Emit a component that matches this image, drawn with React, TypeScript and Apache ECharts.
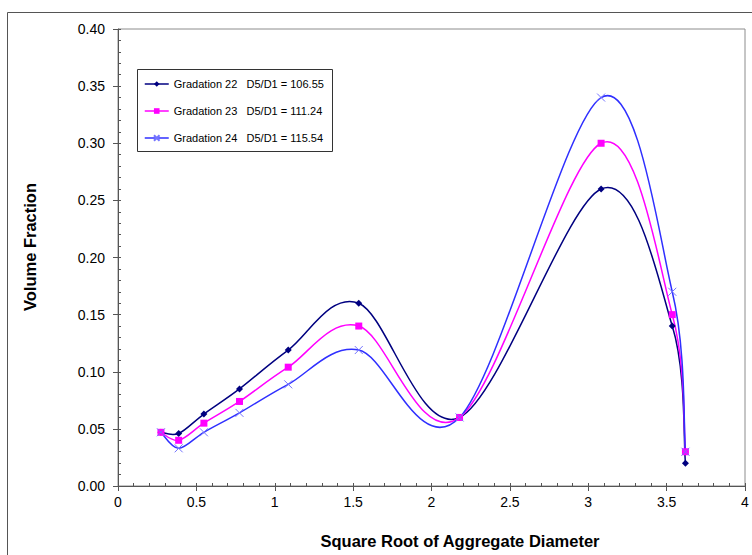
import React, { useEffect, useRef } from "react";
import * as echarts from "echarts";

// ---- data ----
const xValues = [0.274, 0.387, 0.548, 0.775, 1.086, 1.536, 2.179, 3.082, 3.536, 3.62];
const grad22 = [0.047, 0.046, 0.063, 0.085, 0.119, 0.16, 0.06, 0.26, 0.14, 0.02];
const grad23 = [0.047, 0.04, 0.055, 0.074, 0.104, 0.14, 0.06, 0.3, 0.15, 0.03];
const grad24 = [0.047, 0.033, 0.047, 0.064, 0.089, 0.119, 0.06, 0.34, 0.17, 0.03];
const seriesNames = [
  "Gradation 22   D5/D1 = 106.55",
  "Gradation 23   D5/D1 = 111.24",
  "Gradation 24   D5/D1 = 115.54",
];
const xTitle = "Square Root of Aggregate Diameter";
const yTitle = "Volume Fraction";

const FONT = "'Liberation Sans', Arial, sans-serif";

const NAVY = "#000080";
const MAGENTA = "#ff00ff";
const BLUE = "#2f2fff";
const XMARK = "#7474ff";

function makeCurve(ys: number[], color: string, width: number) {
  const n = ys.length;
  const clamp = (k: number) => Math.max(0, Math.min(n - 1, k));
  return {
    type: "custom",
    silent: true,
    z: 2,
    data: ys.map((y, i) => [xValues[i], y]),
    encode: { x: 0, y: 1 },
    renderItem: (params: any, api: any) => {
      const i = params.dataIndex;
      if (i >= n - 1) return null;
      const P = (k: number) => api.coord([xValues[clamp(k)], ys[clamp(k)]]);
      const p0 = P(i - 1);
      const p1 = P(i);
      const p2 = P(i + 1);
      const p3 = P(i + 2);
      const t = 1 / 6;
      return {
        type: "bezierCurve",
        shape: {
          x1: p1[0],
          y1: p1[1],
          x2: p2[0],
          y2: p2[1],
          cpx1: p1[0] + (p2[0] - p0[0]) * t,
          cpy1: p1[1] + (p2[1] - p0[1]) * t,
          cpx2: p2[0] - (p3[0] - p1[0]) * t,
          cpy2: p2[1] - (p3[1] - p1[1]) * t,
        },
        style: { stroke: color, lineWidth: width, fill: "none" },
      };
    },
  };
}

function makeMarkers(
  name: string,
  ys: number[],
  lineColor: string,
  symbol: string,
  size: number,
  itemStyle: any
) {
  return {
    type: "line",
    name,
    z: 3,
    data: ys.map((y, i) => [xValues[i], y]),
    symbol,
    symbolSize: size,
    showSymbol: true,
    lineStyle: { color: lineColor, width: 1.5, opacity: 0 },
    itemStyle,
    emphasis: { disabled: true },
  };
}

export default function App() {
  const ref = useRef<HTMLDivElement>(null);
  useEffect(() => {
    if (!ref.current) return;
    const chart = echarts.init(ref.current, undefined, { renderer: "svg" });
    const axisLabelStyle = { color: "#000", fontSize: 14, fontFamily: FONT };
    chart.setOption({
      animation: false,
      backgroundColor: "#fff",
      grid: {
        left: 118,
        top: 29,
        width: 627,
        height: 457,
        show: true,
        borderColor: "#8c8c8c",
        borderWidth: 1,
        backgroundColor: "transparent",
      },
      xAxis: [
        {
          type: "value",
          min: 0,
          max: 4,
          interval: 0.5,
          position: "bottom",
          axisLine: { show: true, lineStyle: { color: "#555", width: 1 } },
          axisTick: { show: true, inside: false, length: 5, lineStyle: { color: "#555" } },
          axisLabel: { ...axisLabelStyle, margin: 9, formatter: (v: number) => String(v) },
          splitLine: { show: false },
        },
        {
          type: "value",
          min: 0,
          max: 4,
          interval: 0.1,
          position: "bottom",
          axisLine: { show: false },
          axisTick: { show: true, inside: true, length: 3, lineStyle: { color: "#555" } },
          axisLabel: { show: false },
          splitLine: { show: false },
        },
      ],
      yAxis: [
        {
          type: "value",
          min: 0,
          max: 0.4,
          interval: 0.05,
          position: "left",
          axisLine: { show: true, lineStyle: { color: "#555", width: 1 } },
          axisTick: { show: true, inside: false, length: 5, lineStyle: { color: "#555" } },
          axisLabel: { ...axisLabelStyle, margin: 13, formatter: (v: number) => v.toFixed(2) },
          splitLine: { show: false },
        },
        {
          type: "value",
          min: 0,
          max: 0.4,
          interval: 0.01,
          position: "left",
          axisLine: { show: false },
          axisTick: { show: true, inside: true, length: 3, lineStyle: { color: "#555" } },
          axisLabel: { show: false },
          splitLine: { show: false },
        },
      ],
      legend: {
        data: seriesNames,
        orient: "vertical",
        left: 144,
        top: 77,
        padding: 0,
        itemWidth: 24,
        itemHeight: 7,
        itemGap: 13,
        selectedMode: false,
        textStyle: { fontSize: 11, fontFamily: FONT, color: "#000", lineHeight: 14 },
        lineStyle: { opacity: 1, width: 1.5 },
      },
      series: [
        makeCurve(grad22, NAVY, 1.5),
        makeCurve(grad23, MAGENTA, 1.5),
        makeCurve(grad24, BLUE, 1.5),
        makeMarkers(seriesNames[0], grad22, NAVY, "diamond", 7, { color: NAVY }),
        makeMarkers(seriesNames[1], grad23, MAGENTA, "rect", 7, { color: MAGENTA }),
        makeMarkers(seriesNames[2], grad24, BLUE, "path://M0 0L10 10M10 0L0 10", 8, {
          color: "none",
          borderColor: XMARK,
          borderWidth: 1,
        }),
      ],
      graphic: [
        {
          type: "rect",
          silent: true,
          z: 0,
          shape: { x: 7.5, y: 12.5, width: 800, height: 600 },
          style: { fill: "none", stroke: "#555", lineWidth: 1 },
        },
        {
          type: "rect",
          silent: true,
          z: 1,
          shape: { x: 137.5, y: 69.5, width: 195, height: 82 },
          style: { fill: "none", stroke: "#333", lineWidth: 1 },
        },
        {
          type: "text",
          silent: true,
          x: 30,
          y: 247,
          rotation: Math.PI / 2,
          style: {
            text: yTitle,
            fontSize: 16.5,
            fontWeight: "bold",
            fontFamily: FONT,
            fill: "#000",
            align: "center",
            verticalAlign: "middle",
          },
        },
        {
          type: "text",
          silent: true,
          x: 460,
          y: 541,
          style: {
            text: xTitle,
            fontSize: 16.5,
            fontWeight: "bold",
            fontFamily: FONT,
            fill: "#000",
            align: "center",
            verticalAlign: "middle",
          },
        },
      ],
    });
    return () => chart.dispose();
  }, []);
  return (
    <div
      ref={ref}
      style={{ position: "fixed", left: 0, top: 0, width: 752, height: 555 }}
    />
  );
}
